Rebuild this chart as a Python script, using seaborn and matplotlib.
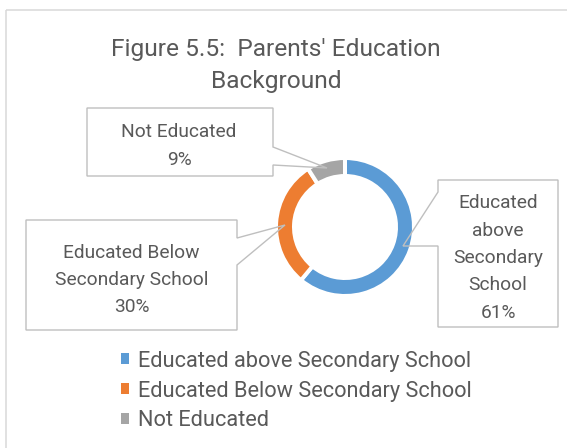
import matplotlib
matplotlib.use("Agg")
import matplotlib.pyplot as plt
from matplotlib.patches import Polygon, Rectangle
from matplotlib.font_manager import FontProperties
import seaborn as sns

# ---- data ----
categories = ["Educated above Secondary School",
              "Educated Below Secondary School",
              "Not Educated"]
shares = [61, 30, 9]
percent_labels = ["61%", "30%", "9%"]
title_lines = ["Figure 5.5:  Parents' Education", "Background"]
box_name_lines = [["Educated", "above", "Secondary", "School"],
                  ["Educated Below", "Secondary School"],
                  ["Not Educated"]]
colors = ["#5B9BD5", "#ED7D31", "#A5A5A5"]

# ---- style ----
sns.set_theme(style="white")
FAMILY = ["Roboto", "DejaVu Sans"]
plt.rcParams['font.family'] = FAMILY
TEXT_C = "#595959"
LINE_C = "#BFBFBF"

W, H = 567, 448
fig = plt.figure(figsize=(W / 100, H / 100), dpi=100)
ax = fig.add_axes([0, 0, 1, 1])

# donut (pixel coordinates, y downward)
lw_px = 4
wedges, _ = ax.pie(shares, colors=colors, startangle=-90, counterclock=True,
                   center=(345, 227), radius=67 + lw_px / 2,
                   wedgeprops=dict(width=14 + lw_px, edgecolor="white",
                                   linewidth=lw_px * 0.72))
ax.set_xlim(0, W)
ax.set_ylim(H, 0)
ax.set_aspect("auto")
ax.axis("off")

# chart border
ax.add_patch(Rectangle((5.5, 10), 700, 600, fill=False, ec="#D9D9D9",
                       lw=1.1, zorder=0))

fig.canvas.draw()
r = fig.canvas.get_renderer()


def width_px(s, fs):
    t = ax.text(0, 0, s, fontsize=fs)
    w = t.get_window_extent(r).width
    t.remove()
    return w


fs_title = 10 * 329 / width_px(title_lines[0], 10)
fs_lab = 10 * 152 / width_px("Secondary School", 10)
fs_leg = 10 * 333 / width_px(categories[0], 10)

# title
for line, yb in zip(title_lines, [56, 88]):
    ax.text(276, yb, line, ha="center", va="baseline", fontsize=fs_title,
            color=TEXT_C)

# callout boxes
callouts = [
    ([(438, 180), (558, 180), (558, 327), (438, 327), (438, 246), (403, 246),
      (438, 192)], 498, [208, 235.5, 263, 290.5, 318]),
    ([(26, 220), (237, 220), (237, 238), (285, 225), (237, 265), (237, 330),
      (26, 330)], 131.5, [258, 285, 312]),
    ([(87, 108), (273, 108), (273, 147), (327, 168), (273, 165), (273, 176),
      (87, 176)], 179, [137, 165]),
]
for i, (verts, cx, bls) in enumerate(callouts):
    ax.add_patch(Polygon(verts, closed=True, facecolor="none", edgecolor=LINE_C,
                         lw=1.0, zorder=5))
    lines = box_name_lines[i] + [percent_labels[i]]
    for line, yb in zip(lines, bls):
        ax.text(cx, yb, line, ha="center", va="baseline", fontsize=fs_lab,
                color=TEXT_C, zorder=6)

# legend
fs_px = fs_leg * 100 / 72
lp_d = r.get_text_width_height_descent(
    "lp", FontProperties(family=FAMILY, size=fs_leg), ismath=False)[2]
ls = 0.4
anchor_y = 350.0
leg_kw = dict(loc="upper left", frameon=False, fontsize=fs_leg,
              handlelength=8 / fs_px, handleheight=8 / fs_px,
              handletextpad=9 / fs_px, borderpad=0, borderaxespad=0,
              labelcolor=TEXT_C, bbox_transform=ax.transData)
for _ in range(3):
    leg = ax.legend(wedges, categories, labelspacing=ls,
                    bbox_to_anchor=(121, anchor_y), **leg_kw)
    fig.canvas.draw()
    bl = [H - (t.get_window_extent(r).y0 + lp_d) for t in leg.get_texts()]
    pitch = (bl[2] - bl[0]) / 2
    ls += (30 - pitch) / fs_px
    anchor_y += 366.5 - bl[0]
leg = ax.legend(wedges, categories, labelspacing=ls,
                bbox_to_anchor=(121, anchor_y), **leg_kw)
for h in leg.legend_handles:
    h.set_edgecolor("none")

fig.savefig("out.png", dpi=100)
